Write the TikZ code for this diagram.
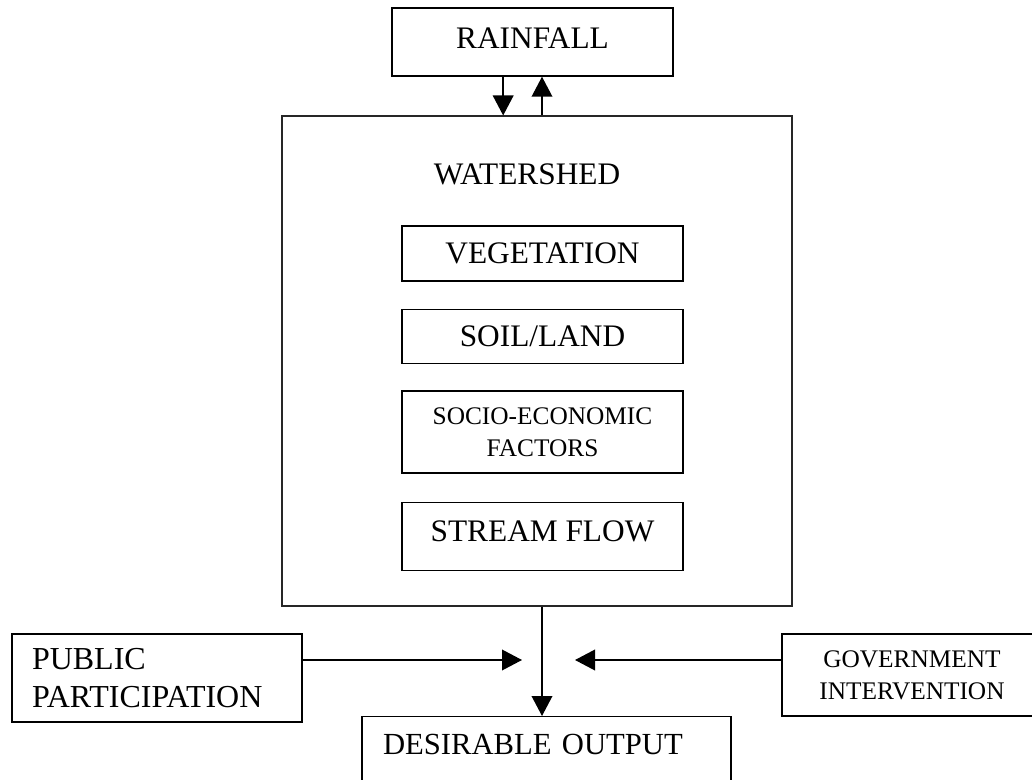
\documentclass[tikz,border=0pt]{standalone}
\usepackage{fontspec}
\setmainfont{Liberation Serif}
\usetikzlibrary{positioning,arrows.meta}

\begin{document}
\begin{tikzpicture}[x=0.75pt,y=-0.75pt, node distance=20pt,
    box/.style={draw,line width=1.1pt,inner sep=0pt,minimum width=210.75pt,font=\fontsize{23.5}{29}\selectfont,align=center},
    smallbox/.style={box,font=\fontsize{19}{24}\selectfont},
    flow/.style={-{Triangle[length=15pt,width=15.5pt]},line width=1.1pt}]
        \clip (0,0) rectangle (1032,780);
        \fill[white] (0,0) rectangle (1032,780);
        \node[box,minimum height=51pt,text depth=6pt] (rain) at (532.5,42) {RAINFALL};
        \node[draw,line width=0.8pt,black!85,minimum width=382.5pt,minimum height=367.5pt,inner sep=0pt] (shed) at (537,361) {};
        \node[font=\fontsize{23.5}{29}\selectfont,inner sep=0pt] (title) at (527,174) {WATERSHED};
        \node[box,minimum height=41.25pt] (veg) at (542.5,253.5) {VEGETATION};
        \node[box,minimum height=40.5pt,below=20.25pt of veg] (soil) {SOIL/LAND};
        \node[smallbox,minimum height=61.5pt,below=19.5pt of soil] (socio) {SOCIO-ECONOMIC\\FACTORS};
        \node[box,minimum height=51pt,text depth=7.5pt,below=21pt of socio] (stream) {STREAM FLOW};
        \node[box,font=\fontsize{23}{29}\selectfont,minimum width=276.75pt,text width=245.25pt,align=left,inner xsep=15.75pt,inner ysep=12.75pt,text depth=24pt,anchor=north] (out) at (546.5,716) {DESIRABLE OUTPUT};
        \node[box,font=\fontsize{24}{29}\selectfont,minimum width=217.5pt,minimum height=66pt,text width=187.5pt,inner xsep=15pt,align=left] (pub) at (157,678) {PUBLIC\\PARTICIPATION};
        \node[smallbox,minimum width=195pt,minimum height=61.5pt] (gov) at (912,675) {GOVERNMENT\\INTERVENTION};
        \coordinate (join) at (542,660);
        \draw[flow] ([xshift=-22pt]rain.south) -- ([xshift=-22pt]rain.south |- shed.north);
        \draw[flow] ([xshift=3.75pt]shed.north) -- ([xshift=3.75pt]shed.north |- rain.south);
        \draw[flow] ([xshift=3.75pt]shed.south) -- ([xshift=3.75pt]shed.south |- out.north);
        \draw[flow] (pub.east |- join) -- ([xshift=-15pt]join);
        \draw[flow] (gov.west |- join) -- ([xshift=24.75pt]join);
      \end{tikzpicture}
\end{document}
